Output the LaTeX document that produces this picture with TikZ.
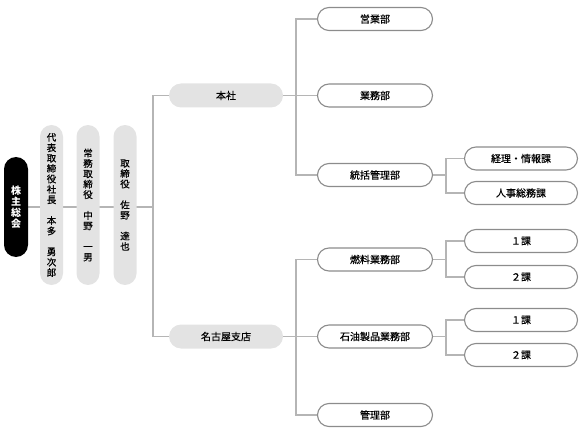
\documentclass[tikz,border=0pt]{standalone}
\usepackage{fontspec}
\setmainfont{Noto Sans CJK JP}
\newfontfamily\medfont[FakeBold=0.6]{Noto Sans CJK JP}
\usetikzlibrary{backgrounds}
\definecolor{lineg}{HTML}{B5B5B5}
\definecolor{bordg}{HTML}{8C8C8C}
\definecolor{fillg}{HTML}{E3E3E3}
\begin{document}
\begin{tikzpicture}[x=1pt,y=-1pt,
  whitepill/.style={draw=bordg,line width=1.1pt,fill=white,rounded corners=11.5pt,
    minimum width=115pt,minimum height=23pt,inner sep=0pt,font=\medfont\fontsize{10}{12}\selectfont},
  graypill/.style={fill=fillg,rounded corners=12pt,minimum width=114pt,minimum height=24pt,
    inner sep=0pt,font=\medfont\fontsize{10}{12}\selectfont},
  vpill/.style={fill=fillg,rounded corners=11.5pt,minimum width=23pt,minimum height=160pt,
    inner sep=0pt,align=center,font=\medfont\fontsize{9.5}{10.4}\selectfont},
  blackpill/.style={fill=black,rounded corners=12pt,minimum width=24pt,minimum height=100pt,
    inner sep=0pt,align=center,text=white,font=\bfseries\fontsize{10}{11}\selectfont},
  conn/.style={draw=lineg,line width=1.2pt}]
\useasboundingbox (0,0) rectangle (580,430);
% left column
\node[blackpill] (kabu) at (16,207) {株\\主\\総\\会};
\node[vpill] (p1) at (51.5,205) {代\\表\\取\\締\\役\\社\\長\\[10.4pt]本\\多\\[10.4pt]勇\\次\\郎};
\node[vpill] (p2) at (88,205) {常\\務\\取\\締\\役\\[10.4pt]中\\野\\[10.4pt]一\\男};
\node[vpill] (p3) at (125,205) {取\\締\\役\\[10.4pt]佐\\野\\[10.4pt]達\\也};
% level 2
\node[graypill] (honsha) at (226,95.5) {本社};
\node[graypill] (nagoya) at (226,336.5) {名古屋支店};
% level 3
\node[whitepill] (eigyo) at (375,19) {営業部};
\node[whitepill] (gyomu) at (375,95.5) {業務部};
\node[whitepill] (tokatsu) at (375,175) {統括管理部};
\node[whitepill] (nenryo) at (375,259.5) {燃料業務部};
\node[whitepill] (sekiyu) at (375,336.5) {石油製品業務部};
\node[whitepill] (kanri) at (375,415) {管理部};
% level 4
\node[whitepill,minimum width=113pt] (keiri) at (521,158.5) {経理・情報課};
\node[whitepill,minimum width=113pt] (jinji) at (521,193) {人事総務課};
\node[whitepill,minimum width=113pt] (n1) at (521,241) {１課};
\node[whitepill,minimum width=113pt] (n2) at (521,277) {２課};
\node[whitepill,minimum width=113pt] (s1) at (521,320) {１課};
\node[whitepill,minimum width=113pt] (s2) at (521,355) {２課};
% junctions
\coordinate (j0) at (153,207);
\coordinate (jt) at (446,175);
\coordinate (jn) at (446,259.5);
\coordinate (js) at (446,336.5);
\begin{pgfonlayer}{background}
  \draw[conn] (kabu.east) -- (j0);
  \draw[conn] (honsha.west) -| (j0) |- (nagoya.west);
  \draw[conn] (honsha.east) -- (gyomu.west);
  \draw[conn] (eigyo.west) -- ++(-21,0) |- (tokatsu.west);
  \draw[conn] (nagoya.east) -- (sekiyu.west);
  \draw[conn] (nenryo.west) -- ++(-21,0) |- (kanri.west);
  \draw[conn] (tokatsu.east) -- (jt);
  \draw[conn] (keiri.west) -| (jt) |- (jinji.west);
  \draw[conn] (nenryo.east) -- (jn);
  \draw[conn] (n1.west) -| (jn) |- (n2.west);
  \draw[conn] (sekiyu.east) -- (js);
  \draw[conn] (s1.west) -| (js) |- (s2.west);
\end{pgfonlayer}
\end{tikzpicture}
\end{document}
